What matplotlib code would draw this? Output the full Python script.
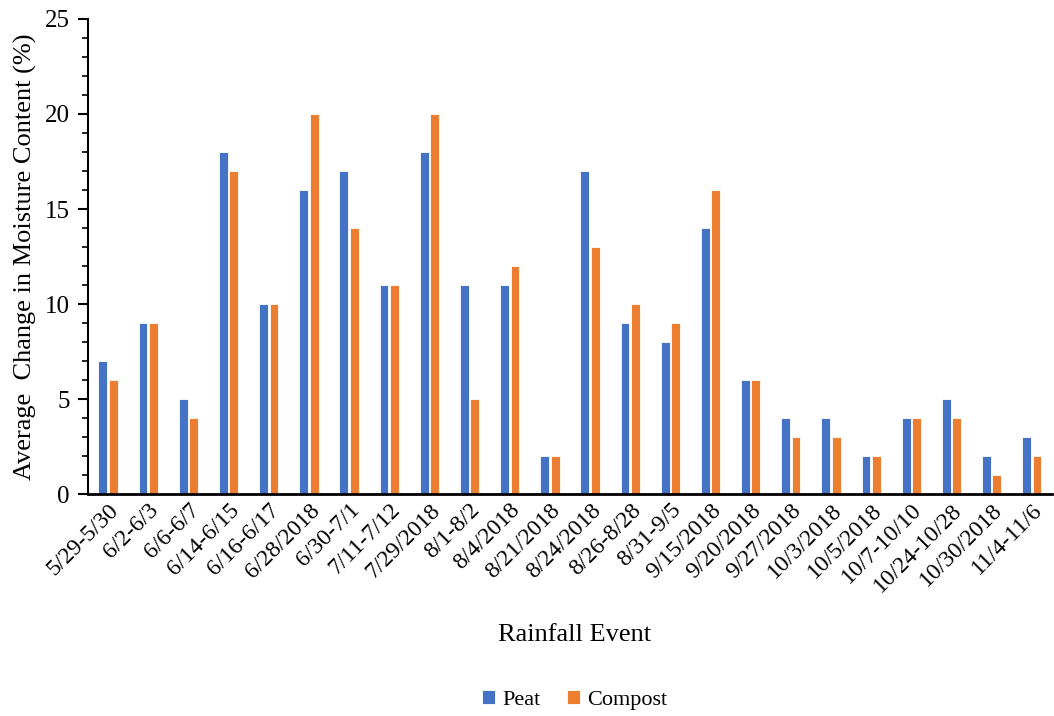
import numpy as np
import matplotlib.pyplot as plt
from matplotlib.ticker import MultipleLocator

plt.rcParams['font.family'] = ['Liberation Serif', 'DejaVu Serif']

# rainfall events and average change in moisture content (%)
events = ['5/29-5/30', '6/2-6/3', '6/6-6/7', '6/14-6/15', '6/16-6/17', '6/28/2018',
          '6/30-7/1', '7/11-7/12', '7/29/2018', '8/1-8/2', '8/4/2018', '8/21/2018',
          '8/24/2018', '8/26-8/28', '8/31-9/5', '9/15/2018', '9/20/2018', '9/27/2018',
          '10/3/2018', '10/5/2018', '10/7-10/10', '10/24-10/28', '10/30/2018', '11/4-11/6']
peat = [7, 9, 5, 18, 10, 16, 17, 11, 18, 11, 11, 2, 17, 9, 8, 14, 6, 4, 4, 2, 4, 5, 2, 3]
compost = [6, 9, 4, 17, 10, 20, 14, 11, 20, 5, 12, 2, 13, 10, 9, 16, 6, 3, 3, 2, 4, 4, 1, 2]

fig = plt.figure(figsize=(10.54, 7.16), dpi=100)
ax = fig.add_axes([0.0835, 0.31, 0.9145, 0.6635])

x = np.arange(len(events))
w = 0.22
ax.bar(x - w / 2 - 0.02, peat, w, color='#4472C4', edgecolor='white', linewidth=0.6, label='Peat')
ax.bar(x + w / 2 + 0.02, compost, w, color='#ED7D31', edgecolor='white', linewidth=0.6, label='Compost')

ax.set_xlim(-0.5, len(events) - 0.5)
ax.set_ylim(0, 25)
ax.yaxis.set_major_locator(MultipleLocator(5))
ax.yaxis.set_minor_locator(MultipleLocator(1))
ax.tick_params(axis='y', which='major', length=7, width=1.5, labelsize=18, direction='out', pad=6)
ax.tick_params(axis='y', which='minor', length=4, width=1.2, direction='out')
ax.tick_params(axis='x', length=0, labelsize=17, pad=4)
ax.set_xticks(x)
ax.set_xticklabels(events, rotation=45, ha='right', rotation_mode='anchor')

for s in ['top', 'right']:
    ax.spines[s].set_visible(False)
ax.spines['left'].set_linewidth(1.5)
ax.spines['bottom'].set_linewidth(2)

ax.set_ylabel('Average  Change in Moisture Content (%)', fontsize=19, labelpad=6)
fig.text(0.545, 0.113, 'Rainfall Event', ha='center', va='center', fontsize=19)

ax.legend(loc='center', bbox_to_anchor=(0.545, 0.022), bbox_transform=fig.transFigure,
          ncol=2, frameon=False, fontsize=16, handlelength=0.6, handleheight=0.6,
          handletextpad=0.3, columnspacing=1.2)

fig.savefig('out.png', dpi=100)
